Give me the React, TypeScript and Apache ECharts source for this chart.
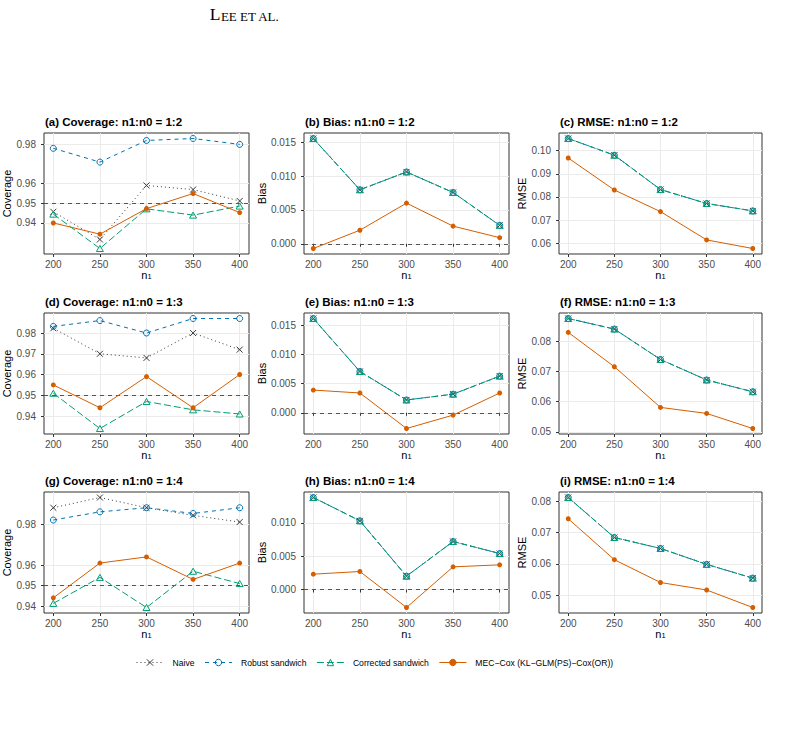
import React, { useEffect, useRef } from "react";
import * as echarts from "echarts";

// ---------- data ----------
const n1Values = [200, 250, 300, 350, 400];

const seriesNames = [
  "Naive",
  "Robust sandwich",
  "Corrected sandwich",
  "MEC\u2212Cox (KL\u2212GLM(PS)\u2212Cox(OR))",
];

// (a) Coverage 1:2
const covA_naive = [0.9457, 0.9316, 0.9591, 0.957, 0.9512];
const covA_robust = [0.978, 0.971, 0.982, 0.983, 0.98];
const covA_corrected = [0.9445, 0.927, 0.9472, 0.944, 0.9486];
const covA_mec = [0.94, 0.9343, 0.9473, 0.955, 0.9453];
// (b) Bias 1:2  (naive / robust / corrected share the same estimate)
const biasB_sandwich = [0.01554, 0.00797, 0.0106, 0.00757, 0.00272];
const biasB_mec = [-0.0007, 0.002, 0.006, 0.0026, 0.0009];
// (c) RMSE 1:2
const rmseC_sandwich = [0.1052, 0.098, 0.0832, 0.0772, 0.074];
const rmseC_mec = [0.0968, 0.083, 0.0737, 0.0615, 0.0578];
// (d) Coverage 1:3
const covD_naive = [0.9823, 0.97, 0.968, 0.98, 0.972];
const covD_robust = [0.9832, 0.986, 0.98, 0.987, 0.987];
const covD_corrected = [0.951, 0.934, 0.947, 0.943, 0.941];
const covD_mec = [0.955, 0.944, 0.959, 0.944, 0.96];
// (e) Bias 1:3
const biasE_sandwich = [0.0162, 0.0071, 0.0022, 0.0032, 0.0063];
const biasE_mec = [0.0039, 0.0034, -0.0027, -0.0004, 0.0034];
// (f) RMSE 1:3
const rmseF_sandwich = [0.0876, 0.0841, 0.074, 0.0672, 0.0633];
const rmseF_mec = [0.083, 0.0716, 0.0581, 0.0561, 0.0511];
// (g) Coverage 1:4
const covG_naive = [0.988, 0.993, 0.988, 0.9843, 0.981];
const covG_robust = [0.982, 0.986, 0.988, 0.9852, 0.988];
const covG_corrected = [0.9413, 0.954, 0.9393, 0.957, 0.951];
const covG_mec = [0.944, 0.961, 0.964, 0.953, 0.961];
// (h) Bias 1:4
const biasH_sandwich = [0.0138, 0.0103, 0.002, 0.0072, 0.0054];
const biasH_mec = [0.0023, 0.0027, -0.0027, 0.0034, 0.0037];
// (i) RMSE 1:4
const rmseI_sandwich = [0.0812, 0.0684, 0.0649, 0.0598, 0.0554];
const rmseI_mec = [0.0744, 0.0613, 0.054, 0.0516, 0.046];

// tick labels
const covTicksA = [0.94, 0.95, 0.96, 0.98];
const covTicksD = [0.94, 0.95, 0.96, 0.97, 0.98];
const covTicksG = [0.94, 0.95, 0.96, 0.98];
const biasTicksBE = [0, 0.005, 0.01, 0.015];
const biasTicksH = [0, 0.005, 0.01];
const rmseTicksC = [0.06, 0.07, 0.08, 0.09, 0.1];
const rmseTicksFI = [0.05, 0.06, 0.07, 0.08];

const coverageRef = 0.95;
const biasRef = 0;

type Kind = "cov" | "bias" | "rmse";
type Panel = {
  title: string;
  kind: Kind;
  data: number[][];
  ticks: number[];
  ref: number | null;
};

const panels: Panel[] = [
  { title: "(a) Coverage: n1:n0 = 1:2", kind: "cov", data: [covA_naive, covA_robust, covA_corrected, covA_mec], ticks: covTicksA, ref: coverageRef },
  { title: "(b) Bias: n1:n0 = 1:2", kind: "bias", data: [biasB_sandwich, biasB_sandwich, biasB_sandwich, biasB_mec], ticks: biasTicksBE, ref: biasRef },
  { title: "(c) RMSE: n1:n0 = 1:2", kind: "rmse", data: [rmseC_sandwich, rmseC_sandwich, rmseC_sandwich, rmseC_mec], ticks: rmseTicksC, ref: null },
  { title: "(d) Coverage: n1:n0 = 1:3", kind: "cov", data: [covD_naive, covD_robust, covD_corrected, covD_mec], ticks: covTicksD, ref: coverageRef },
  { title: "(e) Bias: n1:n0 = 1:3", kind: "bias", data: [biasE_sandwich, biasE_sandwich, biasE_sandwich, biasE_mec], ticks: biasTicksBE, ref: biasRef },
  { title: "(f) RMSE: n1:n0 = 1:3", kind: "rmse", data: [rmseF_sandwich, rmseF_sandwich, rmseF_sandwich, rmseF_mec], ticks: rmseTicksFI, ref: null },
  { title: "(g) Coverage: n1:n0 = 1:4", kind: "cov", data: [covG_naive, covG_robust, covG_corrected, covG_mec], ticks: covTicksG, ref: coverageRef },
  { title: "(h) Bias: n1:n0 = 1:4", kind: "bias", data: [biasH_sandwich, biasH_sandwich, biasH_sandwich, biasH_mec], ticks: biasTicksH, ref: biasRef },
  { title: "(i) RMSE: n1:n0 = 1:4", kind: "rmse", data: [rmseI_sandwich, rmseI_sandwich, rmseI_sandwich, rmseI_mec], ticks: rmseTicksFI, ref: null },
];

// ---------- styling / layout ----------
const FONT = "'Liberation Sans', Arial, Helvetica, sans-serif";
const SERIF = "'Liberation Serif', 'DejaVu Serif', serif";
const colLeft = [44, 304, 559];
const colWidth = [205, 205, 203];
const rowTop = [133, 313, 492];
const panelHeight = 121;

const kindInfo: Record<Kind, { name: string; gap: number; dec: number }> = {
  cov: { name: "Coverage", gap: 24, dec: 2 },
  bias: { name: "Bias", gap: 33, dec: 3 },
  rmse: { name: "RMSE", gap: 27, dec: 2 },
};

const seriesStyle = [
  { color: "#3a3a3a", dash: [1, 3] as number[] | "solid", symbol: "path://M0,0L10,10M10,0L0,10", size: 6, fill: "rgba(0,0,0,0)" },
  { color: "#0072B2", dash: [4, 4] as number[] | "solid", symbol: "circle", size: 6, fill: "rgba(0,0,0,0)" },
  { color: "#009E73", dash: [7, 3] as number[] | "solid", symbol: "path://M5,0L10,8.66L0,8.66Z", size: 7, fill: "rgba(0,0,0,0)" },
  { color: "#D55E00", dash: "solid" as number[] | "solid", symbol: "circle", size: 5, fill: "#D55E00" },
];

function limits(arrs: number[][], ref: number | null): [number, number] {
  const all = arrs.flat();
  if (ref !== null) all.push(ref);
  const lo = Math.min(...all);
  const hi = Math.max(...all);
  const r = hi - lo;
  return [lo - 0.05 * r, hi + 0.05 * r];
}

function buildOption() {
  const grid: any[] = [];
  const xAxis: any[] = [];
  const yAxis: any[] = [];
  const series: any[] = [];
  const graphic: any[] = [];

  graphic.push({
    type: "text",
    x: 244.5,
    y: 14,
    silent: true,
    style: {
      text: "{a|L}{b|EE ET AL.}",
      textAlign: "center",
      textVerticalAlign: "middle",
      fill: "#000",
      rich: {
        a: { fontSize: 17.5, lineHeight: 18, verticalAlign: "bottom", fontFamily: SERIF, fill: "#000" },
        b: { fontSize: 13, lineHeight: 15, verticalAlign: "bottom", fontFamily: SERIF, fill: "#000" },
      },
    },
  });

  panels.forEach((p, i) => {
    const col = i % 3;
    const row = Math.floor(i / 3);
    const info = kindInfo[p.kind];
    const [ymin, ymax] = limits(p.data, p.ref);

    grid.push({
      left: colLeft[col],
      top: rowTop[row],
      width: colWidth[col],
      height: panelHeight,
      show: true,
      borderColor: "#333333",
      borderWidth: 1,
      backgroundColor: "transparent",
    });

    xAxis.push({
      gridIndex: i,
      type: "value",
      min: 190,
      max: 410,
      axisLine: { show: false },
      axisTick: { show: true, length: 3, customValues: n1Values, lineStyle: { color: "#333333", width: 1 } },
      axisLabel: { customValues: n1Values, fontSize: 10, color: "#4d4d4d", margin: 5, fontFamily: FONT },
      splitLine: { show: true, lineStyle: { color: "#ebebeb", width: 1 } },
      name: "{n|n}{s|1}",
      nameLocation: "middle",
      nameGap: 12,
      nameTextStyle: {
        fontFamily: FONT,
        color: "#000",
        rich: {
          n: { fontSize: 11, lineHeight: 14, verticalAlign: "bottom", fontFamily: FONT, color: "#000" },
          s: { fontSize: 7.5, lineHeight: 6, verticalAlign: "bottom", fontFamily: FONT, color: "#000" },
        },
      },
    });

    yAxis.push({
      gridIndex: i,
      type: "value",
      min: ymin,
      max: ymax,
      axisLine: { show: false },
      axisTick: { show: true, length: 3, customValues: p.ticks, lineStyle: { color: "#333333", width: 1 } },
      axisLabel: {
        customValues: p.ticks,
        fontSize: 10,
        color: "#4d4d4d",
        margin: 8,
        fontFamily: FONT,
        formatter: (v: number) => Number(v).toFixed(info.dec),
      },
      splitLine: { show: true, lineStyle: { color: "#ebebeb", width: 1 } },
      name: info.name,
      nameLocation: "middle",
      nameGap: info.gap,
      nameRotate: 90,
      nameTextStyle: { fontSize: 11, color: "#000", fontFamily: FONT },
    });

    p.data.forEach((arr, k) => {
      const st = seriesStyle[k];
      const s: any = {
        type: "line",
        name: seriesNames[k],
        xAxisIndex: i,
        yAxisIndex: i,
        data: n1Values.map((x, j) => [x, arr[j]]),
        symbol: st.symbol,
        symbolSize: st.size,
        symbolKeepAspect: true,
        showSymbol: true,
        silent: true,
        emphasis: { disabled: true },
        lineStyle: { color: st.color, width: 1, type: st.dash },
        itemStyle: { color: st.fill, borderColor: st.color, borderWidth: k === 3 ? 0 : 1 },
        z: 3 + k,
      };
      if (k === 0 && p.ref !== null) {
        s.markLine = {
          silent: true,
          symbol: ["none", "none"],
          label: { show: false },
          lineStyle: { color: "#555555", width: 1, type: [4, 4] },
          emphasis: { disabled: true },
          data: [{ yAxis: p.ref }],
        };
      }
      series.push(s);
    });

    graphic.push({
      type: "text",
      x: colLeft[col] + 1,
      y: rowTop[row] - 11.5,
      silent: true,
      style: {
        text: p.title,
        font: `bold 11.5px ${FONT}`,
        fill: "#000",
        textAlign: "left",
        textVerticalAlign: "middle",
      },
    });
  });

  return {
    animation: false,
    backgroundColor: "#ffffff",
    textStyle: { fontFamily: FONT },
    grid,
    xAxis,
    yAxis,
    series,
    graphic,
    legend: {
      data: seriesNames,
      left: 136,
      top: 658,
      padding: 0,
      itemWidth: 27,
      itemHeight: 8,
      itemGap: 10,
      selectedMode: false,
      textStyle: { fontSize: 8.6, color: "#000", fontFamily: FONT, padding: [0, 0, 0, 4] },
      itemStyle: { borderWidth: 1 },
      lineStyle: { width: 1 },
    },
  };
}

export default function App() {
  const ref = useRef<HTMLDivElement>(null);
  useEffect(() => {
    if (!ref.current) return;
    const chart = echarts.init(ref.current, undefined, { renderer: "svg" });
    chart.setOption(buildOption() as any);
    return () => chart.dispose();
  }, []);
  return (
    <div
      ref={ref}
      style={{ position: "absolute", left: 0, top: 0, width: 811, height: 734, background: "#fff" }}
    />
  );
}
